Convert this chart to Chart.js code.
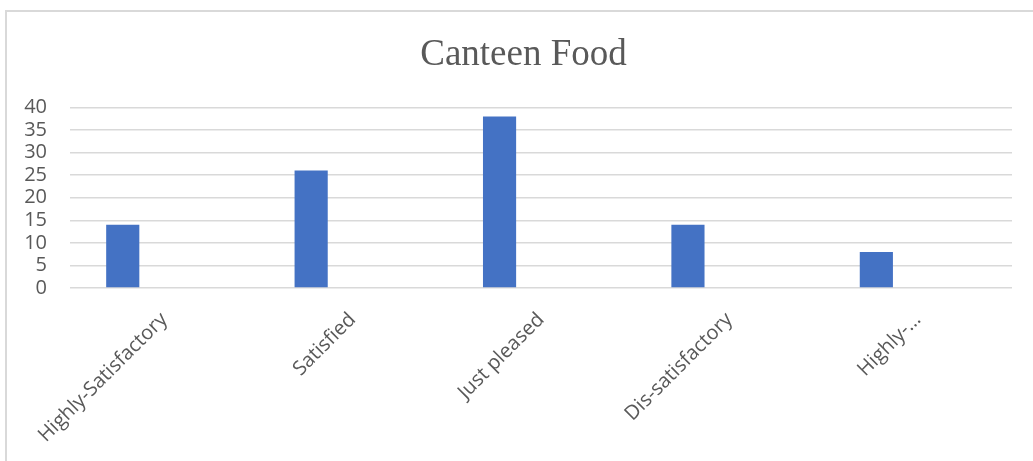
<!DOCTYPE html>
<html>
<head>
<meta charset="utf-8">
<title>Canteen Food</title>
<script src="https://cdn.jsdelivr.net/npm/chart.js@4/dist/chart.umd.min.js"></script>
<style>
    html, body { margin: 0; padding: 0; background: #fff; overflow: hidden; }
    .frame {
        position: absolute;
        left: 5px;
        top: 10px;
        width: 1100px;
        height: 500px;
        border-top: 2px solid #d9d9d9;
        border-left: 2px solid #d9d9d9;
    }
    .wrap {
        position: absolute;
        left: 0;
        top: 0;
        width: 1047px;
        height: 461px;
    }
</style>
</head>
<body>
<div class="frame"></div>
<div class="wrap"><canvas id="canteenChart"></canvas></div>
<script>
const categories = ['Highly-Satisfactory', 'Satisfied', 'Just pleased', 'Dis-satisfactory', 'Highly-…'];
const responses = [14, 26, 38, 14, 8];
const emptySeries = [null, null, null, null, null];
const yMin = 0;
const yMax = 40;
const yStep = 5;

const labelColor = '#595959';
const gridColor = '#d9d9d9';

document.addEventListener('DOMContentLoaded', function() {
    const ctx = document.getElementById('canteenChart');

    new Chart(ctx, {
        type: 'bar',
        data: {
            labels: categories,
            datasets: [{
                label: 'Responses',
                data: responses,
                backgroundColor: '#4472C4',
                borderWidth: 0,
                barPercentage: 0.4,
                categoryPercentage: 0.88
            },
            {
                label: '',
                data: emptySeries,
                backgroundColor: '#ED7D31',
                barPercentage: 0.4,
                categoryPercentage: 0.88
            }]
        },
        options: {
            responsive: true,
            maintainAspectRatio: false,
            animation: false,
            layout: {
                padding: 0
            },
            plugins: {
                legend: { display: false },
                tooltip: { enabled: false },
                title: {
                    display: true,
                    text: 'Canteen Food',
                    color: labelColor,
                    font: { family: '"Liberation Serif", "Times New Roman", serif', size: 37, weight: 'normal', lineHeight: 1.2 },
                    padding: { top: 33, bottom: 30 }
                }
            },
            scales: {
                x: {
                    grid: { display: false },
                    border: { display: false },
                    ticks: {
                        color: labelColor,
                        font: { family: '"Open Sans", sans-serif', size: 20 },
                        minRotation: 45,
                        maxRotation: 45,
                        autoSkip: false,
                        padding: 12
                    },
                    afterFit: function(scale) {
                        scale.height = 173;
                    }
                },
                y: {
                    min: yMin,
                    max: yMax,
                    grid: {
                        color: gridColor,
                        lineWidth: 1.5,
                        drawTicks: false
                    },
                    border: { display: false },
                    ticks: {
                        stepSize: yStep,
                        autoSkip: false,
                        color: labelColor,
                        font: { family: '"Open Sans", sans-serif', size: 20, lineHeight: 1 },
                        padding: 23
                    },
                    afterFit: function(scale) {
                        scale.width = 70;
                    }
                },
                // blank right-hand gutter so the plot stops short of the frame edge
                gutter: {
                    type: 'linear',
                    position: 'right',
                    display: true,
                    grid: { display: false },
                    border: { display: false },
                    ticks: { display: false },
                    afterFit: function(scale) {
                        scale.width = 35;
                    }
                }
            }
        }
    });
});
</script>
</body>
</html>
